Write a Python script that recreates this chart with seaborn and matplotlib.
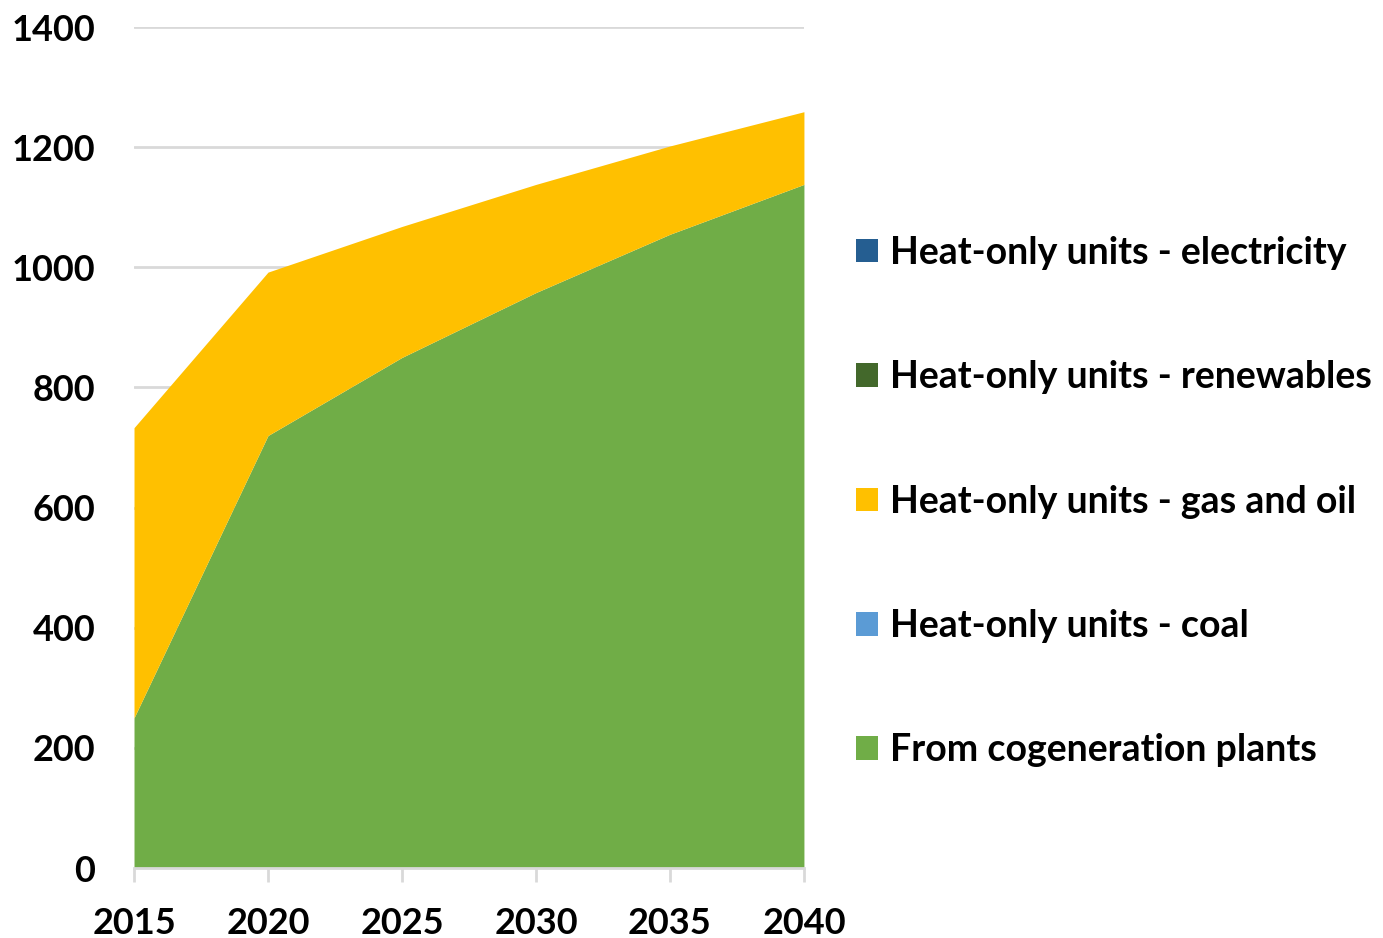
import matplotlib
matplotlib.use("Agg")
import matplotlib.pyplot as plt
from matplotlib.patches import Patch
import seaborn as sns

years = [2015, 2020, 2025, 2030, 2035, 2040]
cogeneration = [250, 720, 850, 958, 1055, 1138]
coal = [0, 0, 0, 0, 0, 0]
gas_and_oil = [483, 272, 218, 180, 147, 121]
renewables = [0, 0, 0, 0, 0, 0]
electricity = [0, 0, 0, 0, 0, 0]

series_labels = [
    "From cogeneration plants",
    "Heat-only units - coal",
    "Heat-only units - gas and oil",
    "Heat-only units - renewables",
    "Heat-only units - electricity",
]
series_colors = ["#70AD47", "#5B9BD5", "#FFC000", "#43682B", "#255E91"]
y_ticks = [0, 200, 400, 600, 800, 1000, 1200, 1400]

sns.set_theme(style="white")
plt.rcParams["font.family"] = ["Lato", "DejaVu Sans"]
plt.rcParams["font.weight"] = "bold"
plt.rcParams["text.color"] = "black"

fig = plt.figure(figsize=(13.83, 9.38), dpi=100)
ax = fig.add_axes([0.0969, 0.0746, 0.4844, 0.8966])

ax.stackplot(years, cogeneration, coal, gas_and_oil, renewables, electricity,
             colors=series_colors, linewidth=0, zorder=2)

ax.set_xlim(2015, 2040)
ax.set_ylim(0, 1400)
ax.set_yticks(y_ticks)
ax.set_xticks(years)
ax.yaxis.grid(True, color="#D9D9D9", linewidth=2, zorder=0)
ax.set_axisbelow(True)

for side in ["top", "right", "left"]:
    ax.spines[side].set_visible(False)
ax.spines["bottom"].set_color("#D9D9D9")
ax.spines["bottom"].set_linewidth(2)

ax.tick_params(axis="y", length=0, pad=28, labelsize=26)
ax.tick_params(axis="x", length=10, width=2, color="#D9D9D9", pad=18,
               labelsize=26, bottom=True)
for lbl in ax.get_xticklabels() + ax.get_yticklabels():
    lbl.set_fontweight("bold")
    lbl.set_color("black")

handles = [Patch(facecolor=c, edgecolor="none") for c in series_colors][::-1]
labels = series_labels[::-1]
leg = fig.legend(handles, labels, loc="upper left",
                 bbox_to_anchor=(0.619, 0.7485), frameon=False,
                 prop={"weight": "bold", "size": 27},
                 handlelength=0.59, handleheight=0.59, handletextpad=0.32,
                 labelspacing=2.41, borderpad=0, borderaxespad=0)
for t in leg.get_texts():
    t.set_color("black")

fig.savefig("out.png", dpi=100)
